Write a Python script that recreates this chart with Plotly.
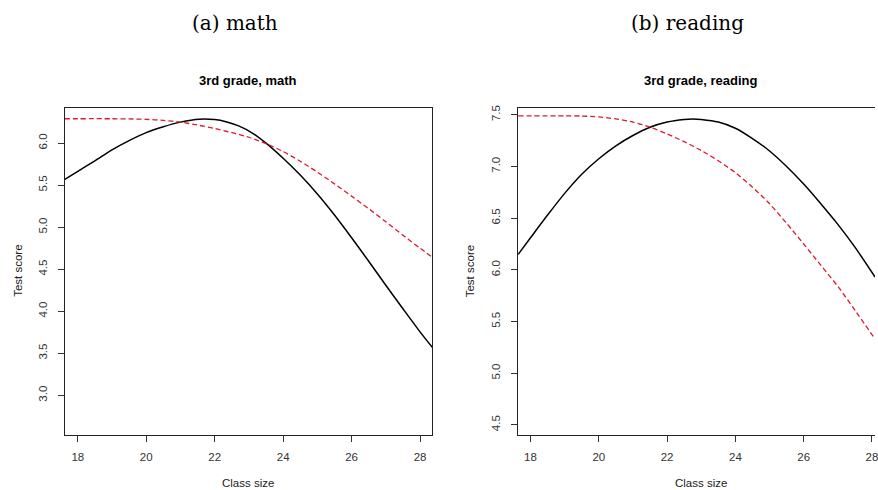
import plotly.graph_objects as go

# ---- data: fitted test score vs class size ----
math_x_solid = [17.61, 18.0, 18.5, 19.0, 19.5, 20.0, 20.5, 21.0, 21.55, 22.0, 22.33, 22.7, 23.1, 23.5, 24.0, 24.5, 25.0, 25.5, 26.0, 26.5, 27.0, 27.5, 28.0, 28.37]
math_y_solid = [5.566, 5.665, 5.79, 5.92, 6.03, 6.125, 6.195, 6.25, 6.285, 6.28, 6.255, 6.205, 6.12, 6.0, 5.82, 5.62, 5.395, 5.145, 4.875, 4.595, 4.31, 4.03, 3.755, 3.565]
math_x_dash = [17.61, 19.0, 19.5, 20.0, 20.5, 21.0, 21.5, 22.0, 22.5, 23.0, 23.5, 24.0, 24.5, 25.0, 25.5, 26.0, 26.5, 27.0, 27.5, 28.0, 28.37]
math_y_dash = [6.29, 6.29, 6.288, 6.283, 6.27, 6.25, 6.215, 6.175, 6.125, 6.07, 5.995, 5.9, 5.785, 5.655, 5.515, 5.37, 5.22, 5.065, 4.905, 4.75, 4.64]

read_x_solid = [17.64, 18.0, 18.5, 19.0, 19.5, 20.0, 20.5, 21.0, 21.5, 22.0, 22.5, 22.75, 23.0, 23.5, 24.0, 24.5, 25.0, 25.5, 26.0, 26.5, 27.0, 27.5, 28.09]
read_y_solid = [6.15, 6.31, 6.53, 6.74, 6.925, 7.075, 7.2, 7.3, 7.38, 7.43, 7.455, 7.46, 7.455, 7.43, 7.37, 7.27, 7.15, 7.0, 6.83, 6.64, 6.44, 6.22, 5.93]
read_x_dash = [17.64, 19.0, 19.5, 20.0, 20.5, 21.0, 21.5, 22.0, 22.5, 23.0, 23.5, 24.0, 24.5, 25.0, 25.5, 26.0, 26.5, 27.0, 27.5, 28.09]
read_y_dash = [7.49, 7.49, 7.488, 7.48, 7.46, 7.43, 7.38, 7.315, 7.24, 7.155, 7.055, 6.94, 6.8, 6.64, 6.45, 6.25, 6.045, 5.84, 5.61, 5.33]

x_ticks = [18, 20, 22, 24, 26, 28]
math_y_ticks = [3.0, 3.5, 4.0, 4.5, 5.0, 5.5, 6.0]
read_y_ticks = [4.5, 5.0, 5.5, 6.0, 6.5, 7.0, 7.5]

W, H = 878, 490
def px(x):
    return x / W
def py(y):
    return 1 - y / H

SANS = "Liberation Sans, Arial, sans-serif"
SERIF = "DejaVu Serif, serif"
RED = "rgb(222,24,44)"

fig = go.Figure()
solid = dict(color="black", width=1.5, shape="spline", smoothing=0.8)
dashed = dict(color=RED, width=1.3, dash="5px,3px", shape="spline", smoothing=0.8)
fig.add_trace(go.Scatter(x=math_x_solid, y=math_y_solid, mode="lines", line=solid, xaxis="x", yaxis="y"))
fig.add_trace(go.Scatter(x=math_x_dash, y=math_y_dash, mode="lines", line=dashed, xaxis="x", yaxis="y"))
fig.add_trace(go.Scatter(x=read_x_solid, y=read_y_solid, mode="lines", line=solid, xaxis="x2", yaxis="y2"))
fig.add_trace(go.Scatter(x=read_x_dash, y=read_y_dash, mode="lines", line=dashed, xaxis="x2", yaxis="y2"))

ydom = [py(435), py(106)]
common_x = dict(showgrid=False, zeroline=False, showline=True, linecolor="#222", linewidth=1,
                ticks="outside", ticklen=6, tickcolor="#333", tickvals=x_ticks,
                tickfont=dict(family=SANS, size=11.5, color="#333"), ticklabelstandoff=5,
                ticklabeloverflow="allow")
common_y = dict(showgrid=False, zeroline=False, showline=True, linecolor="#222", linewidth=1,
                ticks="outside", ticklen=6, tickcolor="#333", tickangle=-90,
                tickfont=dict(family=SANS, size=11.5, color="#333"), ticklabelstandoff=6)

fig.update_layout(
    width=W, height=H,
    margin=dict(l=0, r=0, t=0, b=0),
    paper_bgcolor="white", plot_bgcolor="white",
    showlegend=False,
    xaxis=dict(domain=[px(65), px(433.5)], range=[17.62, 28.35], anchor="y", mirror=True, **common_x),
    yaxis=dict(domain=ydom, range=[2.526, 6.423], anchor="x", mirror=True, tickvals=math_y_ticks,
               ticktext=[f"{v:.1f}" for v in math_y_ticks], **common_y),
    xaxis2=dict(domain=[px(519.3), 1.0], range=[17.62, 28.088], anchor="y2", mirror=True, **common_x),
    yaxis2=dict(domain=ydom, range=[4.40, 7.57], anchor="x2", mirror=False, tickvals=read_y_ticks,
                ticktext=[f"{v:.1f}" for v in read_y_ticks], **common_y),
)

def label(text, x, y, size, family=SANS, angle=0, bold=False, color="#222"):
    fig.add_annotation(text=f"<b>{text}</b>" if bold else text, x=px(x), y=py(y),
                       xref="paper", yref="paper", showarrow=False, textangle=angle,
                       xanchor="center", yanchor="middle",
                       font=dict(family=family, size=size, color=color))

label("(a) math", 236, 21, 20, family=SERIF, color="black")
label("(b) reading", 690, 21, 20, family=SERIF, color="black")
label("3rd grade, math", 249, 79, 13, bold=True, color="black")
label("3rd grade, reading", 703, 79, 13, bold=True, color="black")
label("Test score", 18, 270, 11.5, angle=-90)
label("Test score", 472, 270, 11.5, angle=-90)
label("Class size", 249, 483, 11.5)
label("Class size", 703, 483, 11.5)

fig.write_html("out.html")
